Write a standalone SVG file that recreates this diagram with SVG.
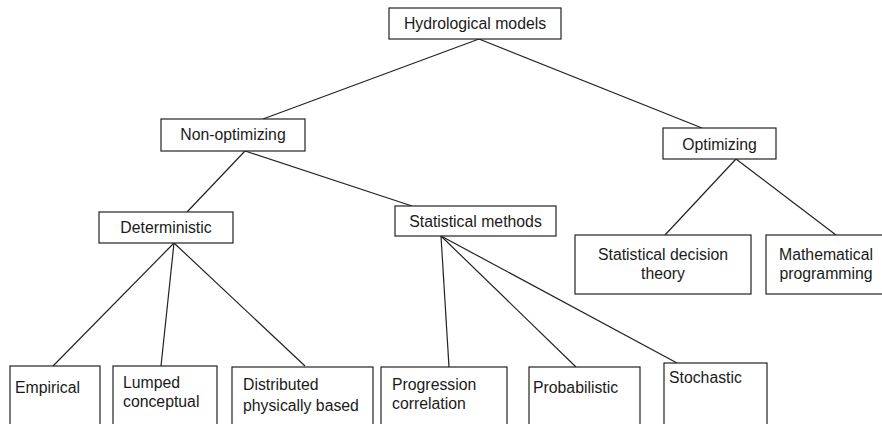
<svg xmlns="http://www.w3.org/2000/svg" width="882" height="424" viewBox="0 0 882 424">
<style>
rect{fill:#fff;stroke:#222;stroke-width:1.2}
line{stroke:#222;stroke-width:1.2}
text{font-family:"Liberation Sans",Arial,sans-serif;font-size:15.8px;fill:#1a1a1a}
.c{text-anchor:middle}
</style>
<rect width="882" height="424" style="stroke:none"/>
<g id="connectors">
<line x1="479" y1="39" x2="263" y2="119"/>
<line x1="479" y1="39" x2="702" y2="128"/>
<line x1="245" y1="151" x2="187" y2="212"/>
<line x1="245" y1="151" x2="412" y2="206"/>
<line x1="736" y1="159" x2="665" y2="235"/>
<line x1="736" y1="159" x2="836" y2="235"/>
<line x1="174" y1="243" x2="53" y2="366"/>
<line x1="174" y1="243" x2="161" y2="366"/>
<line x1="174" y1="243" x2="305" y2="366"/>
<line x1="441" y1="236" x2="449" y2="367"/>
<line x1="441" y1="236" x2="576" y2="367"/>
<line x1="441" y1="236" x2="677" y2="363"/>
</g>
<g id="hydrological">
<rect x="389" y="8" width="172" height="31"/>
<text class="c" x="475" y="29">Hydrological models</text>
</g>
<g id="nonoptimizing">
<rect x="161" y="119" width="144" height="32"/>
<text class="c" x="233" y="140">Non-optimizing</text>
</g>
<g id="optimizing">
<rect x="663" y="128" width="113" height="31"/>
<text class="c" x="719.5" y="150">Optimizing</text>
</g>
<g id="deterministic">
<rect x="99" y="212" width="134" height="31"/>
<text class="c" x="166" y="233">Deterministic</text>
</g>
<g id="statistical">
<rect x="395" y="206" width="161" height="30"/>
<text class="c" x="475.5" y="227">Statistical methods</text>
</g>
<g id="decision">
<rect x="575" y="235" width="176" height="59"/>
<text class="c" x="663" y="260">Statistical decision</text>
<text class="c" x="663" y="279">theory</text>
</g>
<g id="mathprog">
<rect x="766" y="235" width="130" height="59"/>
<text class="c" x="826" y="260">Mathematical</text>
<text class="c" x="826" y="279">programming</text>
</g>
<g id="empirical">
<rect x="10" y="366" width="90" height="70"/>
<text x="15" y="393">Empirical</text>
</g>
<g id="lumped">
<rect x="113" y="366" width="104" height="70"/>
<text x="123" y="388">Lumped</text>
<text x="123" y="407">conceptual</text>
</g>
<g id="distributed">
<rect x="232" y="367" width="141" height="70"/>
<text x="243" y="390">Distributed</text>
<text x="243" y="411">physically based</text>
</g>
<g id="progression">
<rect x="381" y="367" width="126" height="70"/>
<text x="392" y="390">Progression</text>
<text x="392" y="409">correlation</text>
</g>
<g id="probabilistic">
<rect x="529" y="367" width="111" height="70"/>
<text x="533" y="393">Probabilistic</text>
</g>
<g id="stochastic">
<rect x="664" y="363" width="103" height="74"/>
<text x="669" y="383">Stochastic</text>
</g>
</svg>
